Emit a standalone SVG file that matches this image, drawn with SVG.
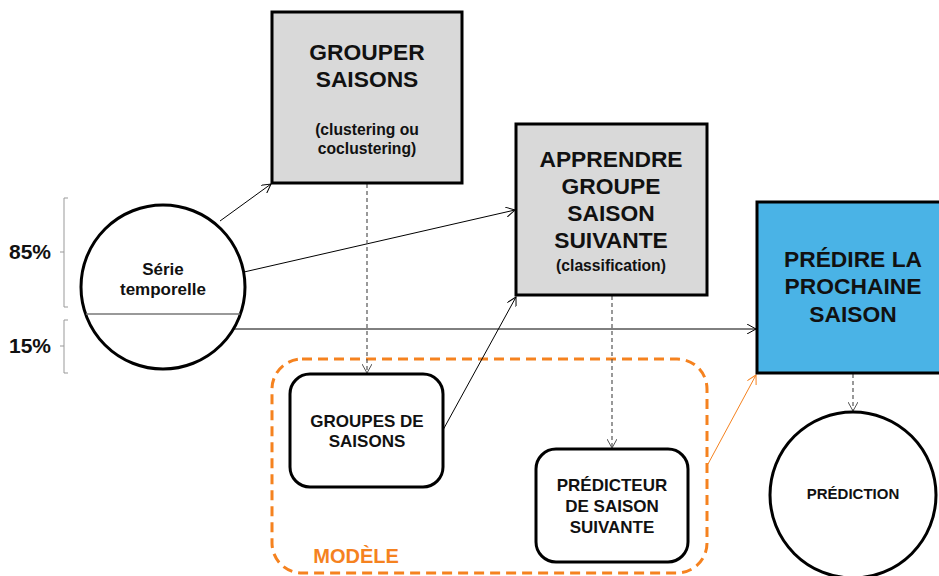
<svg xmlns="http://www.w3.org/2000/svg" width="939" height="576" viewBox="0 0 939 576">
<style>
text{font-family:"Liberation Sans",Arial,sans-serif;font-weight:bold;fill:#111;text-anchor:middle}
.big{font-size:22.8px}
.mid{font-size:17px}
.sm{font-size:15.7px}
.ser{font-size:17px}
.pred{font-size:15px}
.pct{font-size:21px;text-anchor:start}
.box{stroke:#000;stroke-width:3}
.grey{fill:#d9d9d9}
.blue{fill:#4ab3e6}
.wh{fill:#fff}
.bracket{fill:none;stroke:#999;stroke-width:1}
.conn{fill:none;stroke:#000;stroke-width:1}
.dash{fill:none;stroke:#555;stroke-width:1.2;stroke-dasharray:4 3}
.org{fill:none;stroke:#f5821f;stroke-width:1}
</style>
<defs>
<marker id="ah" viewBox="0 0 10 10" refX="9" refY="5" markerWidth="10" markerHeight="10" markerUnits="userSpaceOnUse" orient="auto">
<path d="M0,0 L9,5 L0,10" fill="none" stroke="#000" stroke-width="1"/>
</marker>
<marker id="ahg" viewBox="0 0 10 10" refX="9" refY="5" markerWidth="10" markerHeight="10" markerUnits="userSpaceOnUse" orient="auto">
<path d="M0,0 L9,5 L0,10" fill="none" stroke="#555" stroke-width="1"/>
</marker>
<marker id="aho" viewBox="0 0 10 10" refX="9" refY="5" markerWidth="10" markerHeight="10" markerUnits="userSpaceOnUse" orient="auto">
<path d="M0,0 L9,5 L0,10" fill="none" stroke="#f5821f" stroke-width="1"/>
</marker>
</defs>
<rect width="939" height="576" fill="#fff"/>

<g id="modele">
<rect x="272" y="359" width="435" height="214" rx="30" fill="none" stroke="#f5821f" stroke-width="3" stroke-dasharray="10 6"/>
<text x="356" y="563" style="font-size:20px;fill:#f5821f">MODÈLE</text>
</g>

<g id="brackets">
<path class="bracket" d="M68,198 H64 V307 H68 M64,252 H60"/>
<path class="bracket" d="M68,320 H64 V373 H68 M64,346 H60"/>
<text class="pct" x="9" y="259">85%</text>
<text class="pct" x="9" y="353">15%</text>
</g>

<g id="connectors">
<line class="conn" x1="220" y1="221" x2="271" y2="184" marker-end="url(#ah)"/>
<line class="conn" x1="244" y1="272" x2="515" y2="210" marker-end="url(#ah)"/>
<line class="conn" x1="231" y1="329" x2="756" y2="329" marker-end="url(#ah)"/>
<line class="dash" x1="367" y1="184" x2="367" y2="373" marker-end="url(#ahg)"/>
<line class="conn" x1="443" y1="430" x2="516" y2="297" marker-end="url(#ah)"/>
<line class="dash" x1="612" y1="296" x2="612" y2="448" marker-end="url(#ahg)"/>
<line class="org" x1="708" y1="464" x2="756" y2="375" marker-end="url(#aho)"/>
<line class="dash" x1="853" y1="374" x2="853" y2="411" marker-end="url(#ahg)"/>
</g>

<g id="serie">
<circle cx="163" cy="287" r="82" class="box wh"/>
<line x1="86" y1="314" x2="240" y2="314" stroke="#777" stroke-width="1.5"/>
<text class="ser" x="163" y="275">Série</text>
<text class="ser" x="163" y="295">temporelle</text>
</g>

<g id="grouper">
<rect x="272" y="12" width="190" height="171" class="box grey"/>
<text class="big" x="367" y="60">GROUPER</text>
<text class="big" x="367" y="87">SAISONS</text>
<text class="sm" x="367" y="135">(clustering ou</text>
<text class="sm" x="367" y="154">coclustering)</text>
</g>

<g id="apprendre">
<rect x="516" y="124" width="191" height="171" class="box grey"/>
<text class="big" x="611" y="167">APPRENDRE</text>
<text class="big" x="611" y="194">GROUPE</text>
<text class="big" x="611" y="221">SAISON</text>
<text class="big" x="611" y="248">SUIVANTE</text>
<text class="sm" x="611" y="271">(classification)</text>
</g>

<g id="predire">
<rect x="757" y="202" width="192" height="171" class="box blue"/>
<text class="big" x="853" y="267">PRÉDIRE LA</text>
<text class="big" x="853" y="294">PROCHAINE</text>
<text class="big" x="853" y="322">SAISON</text>
</g>

<g id="groupes">
<rect x="290" y="374" width="153" height="113" rx="20" class="box wh"/>
<text class="mid" x="367" y="427">GROUPES DE</text>
<text class="mid" x="367" y="447">SAISONS</text>
</g>

<g id="predicteur">
<rect x="536" y="449" width="152" height="113" rx="20" class="box wh"/>
<text class="mid" x="612" y="491">PRÉDICTEUR</text>
<text class="mid" x="612" y="512">DE SAISON</text>
<text class="mid" x="612" y="533">SUIVANTE</text>
</g>

<g id="prediction">
<circle cx="853" cy="495" r="83" class="box wh"/>
<text class="pred" x="853" y="499">PRÉDICTION</text>
</g>
</svg>
